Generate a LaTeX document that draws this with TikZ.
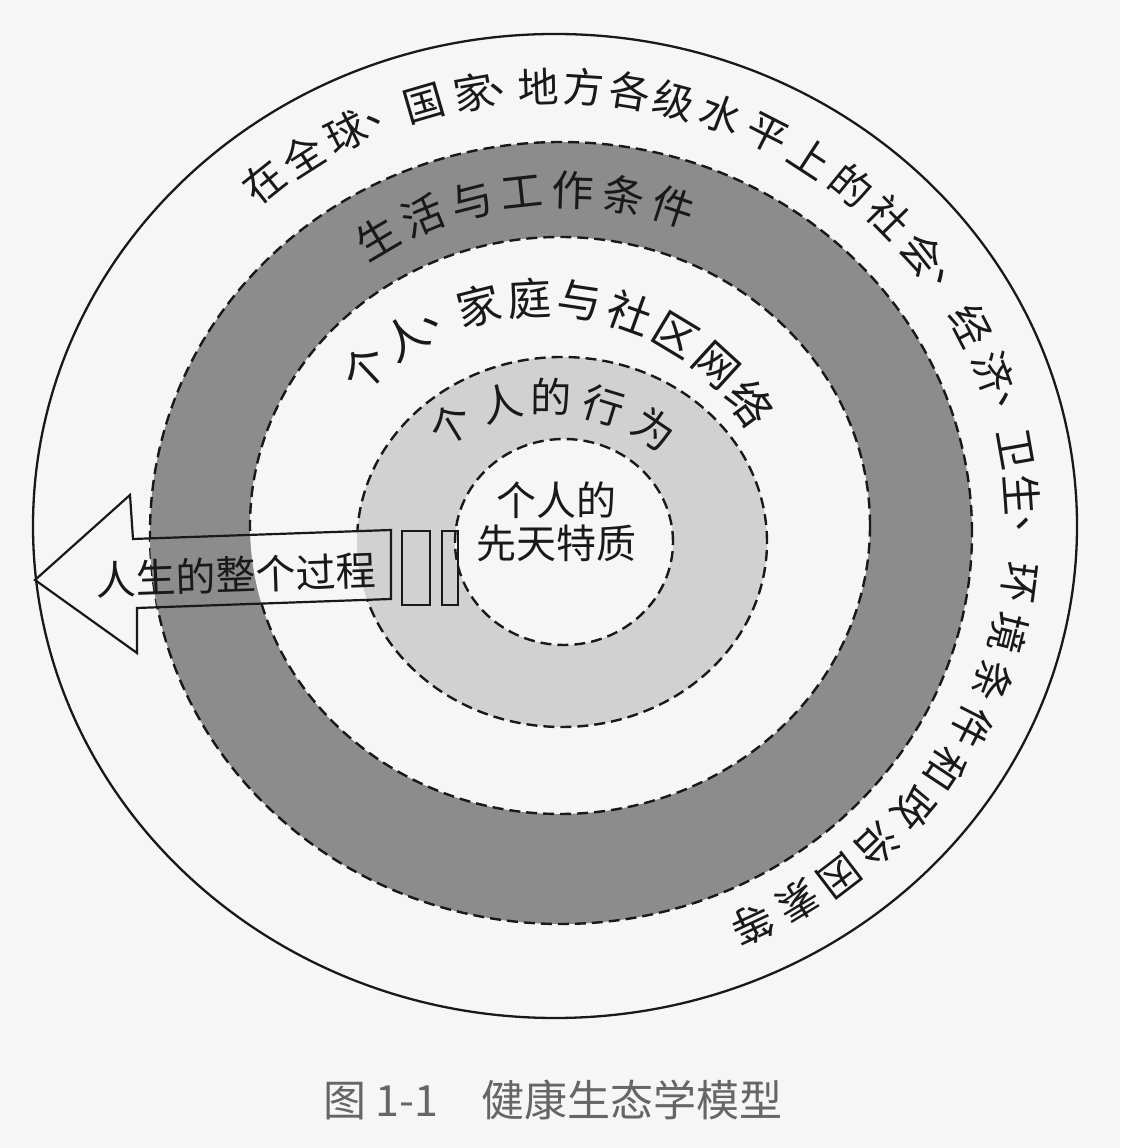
\documentclass[tikz,border=0pt]{standalone}
\usepackage{fontspec}
\setmainfont{Noto Sans CJK SC}
\usetikzlibrary{calc}
\definecolor{paper}{gray}{0.965}
\definecolor{ringdark}{gray}{0.55}
\definecolor{ringlight}{gray}{0.82}
\definecolor{ink}{gray}{0.1}
\newcommand{\RingFills}{%
  \fill[ringdark] (561,615) ellipse [x radius=411pt, y radius=391pt]; %
  \fill[paper] (560,622.5) ellipse [x radius=310pt, y radius=288.5pt]; %
  \fill[ringlight] (562,606) ellipse [x radius=205pt, y radius=185pt]; %
  \fill[paper] (564,606) ellipse [x radius=109pt, y radius=103pt]; %
}
\newcommand{\LifeArrow}{%
(35,568) -- (130,653) -- (133,609) -- (391,618) -- %
(391,549) -- (137,540) -- (137,495) -- cycle %
}
\tikzset{
  ringedge/.style={draw=ink, line width=2.4pt, dash pattern=on 11pt off 6pt},
  ringtext/.style={text=ink, inner sep=0pt},
  outertext/.style={ringtext, font=\fontsize{41}{41}\selectfont},
  darktext/.style={ringtext, font=\fontsize{42}{42}\selectfont},
  whitetext/.style={ringtext, font=\fontsize{44}{44}\selectfont},
  lighttext/.style={ringtext, font=\fontsize{41}{41}\selectfont}
}
\begin{document}
\begin{tikzpicture}[x=1pt,y=1pt]
    \useasboundingbox (0,0) rectangle (1120,1148);
    \fill[paper] (0,0) rectangle (1120,1148);
    \filldraw[fill=paper, draw=ink, line width=2.3pt] (555,622) ellipse [x radius=522pt, y radius=492pt];
    \RingFills
    \draw[ringedge] (561,615) ellipse [x radius=411pt, y radius=391pt];
    \draw[ringedge] (560,622.5) ellipse [x radius=310pt, y radius=288.5pt];
    \draw[ringedge] (562,606) ellipse [x radius=205pt, y radius=185pt];
    \draw[ringedge] (564,606) ellipse [x radius=109pt, y radius=103pt];
    \begin{scope}
      \clip \LifeArrow;
      \RingFills
    \end{scope}
    \draw[ink, line width=2.2pt] \LifeArrow;
    \draw[ink, line width=2pt] (402,543) rectangle (430,617);
    \draw[ink, line width=2pt] (442,543) rectangle (458,617);
    % outer ring
    \foreach \a/\c [count=\i] in {128.5/在,122.6/全,116.6/球,111.3/、,106.2/国,100/家,95.6/、,92/地,
        86.4/方,80.8/各,75.2/级,69.2/水,63/平,56.9/上,50.7/的,44.5/社,38.2/会,32.9/、,27.2/经,
        20.4/济,15.1/、,10/卫,4/生,-1.3/、,-7.4/环,-14.1/境,-20.6/条,-27.1/件,-33.5/和,
        -39.9/政,-46.4/治,-52.6/因,-58.7/素,-65/等}
      \node[outertext, rotate=\a-90] (out\i) at ($(555,622)+(\a:468 and 440)$) {\c};
    % dark ring
    \foreach \a/\c [count=\i] in {120.5/生,112.4/活,104.3/与,96.2/工,88.1/作,80/条,71.9/件}
      \node[darktext, rotate=\a-90] (work\i) at ($(561,615)+(\a:362 and 343)$) {\c};
    % white ring
    \foreach \a/\c [count=\i] in {133.3/个,122/人,112.5/、,104.1/家,92.8/庭,81.5/与,70.2/社,
        58.9/区,47.6/网,36.3/络}
      \node[whitetext, rotate=\a-90] (net\i) at ($(542,592)+(\a:258)$) {\c};
    % light ring
    \foreach \a/\c [count=\i] in {121.5/个,104.5/人,89.5/的,73/行,56/为}
      \node[lighttext, rotate=\a-90] (act\i) at ($(549,563)+(\a:188)$) {\c};
    \node[ringtext, align=center, font=\fontsize{40}{43}\selectfont] (core) at (556,626) {个人的\\先天特质};
    \node[ringtext, rotate=2, font=\fontsize{40}{40}\selectfont] (life) at (236,573) {人生的整个过程};
    \node[ringtext, anchor=west, text=gray!80!black, font=\fontsize{43}{43}\selectfont] (caption) at (323,48) {图 1-1\hspace{1em}健康生态学模型};
\end{tikzpicture}
\end{document}
